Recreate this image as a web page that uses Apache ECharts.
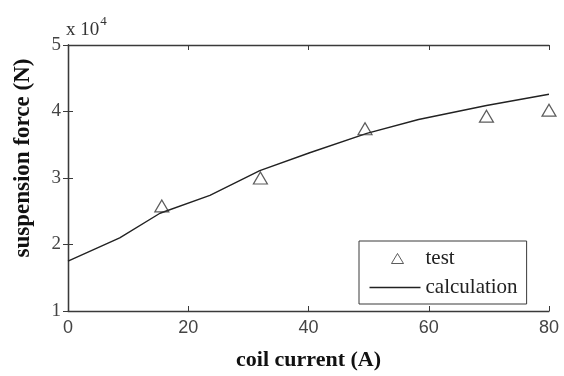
<!DOCTYPE html>
<html>
<head>
    <meta charset="utf-8">
    <title>suspension force</title>
    <script src="https://cdn.jsdelivr.net/npm/echarts@6/dist/echarts.min.js"></script>
</head>
<body style="margin:0;background:#fff;">
<div id="main" style="width: 564px;height:376px;"></div>
<script type="text/javascript">
  // values in units of 1e4 N
  var calcCurrent = [0, 8.6, 15.3, 23.6, 31.9, 40.2, 49.7, 58.3, 69.6, 80];
  var calcForce = [1.75, 2.10, 2.47, 2.74, 3.11, 3.38, 3.67, 3.88, 4.09, 4.26];
  var testCurrent = [15.6, 32, 49.4, 69.6, 80];
  var testForce = [2.58, 3.0, 3.74, 3.93, 4.02];

  var xTicks = [0, 20, 40, 60, 80];
  var yTicks = [1, 2, 3, 4, 5];

  function pairs(xs, ys) {
    var out = [];
    for (var i = 0; i < xs.length; i++) out.push([xs[i], ys[i]]);
    return out;
  }

  var axisColor = '#3a3a3a';
  var myChart = echarts.init(document.getElementById('main'));

  var option = {
    backgroundColor: '#fff',
    animation: false,
    title: {
      text: '{a|x 10}{b|4}',
      left: 66,
      top: 15,
      padding: 0,
      textStyle: {
        fontWeight: 'normal',
        rich: {
          a: { fontFamily: 'Liberation Serif', fontWeight: 'normal', fontSize: 19, color: '#333', verticalAlign: 'bottom' },
          b: { fontFamily: 'Liberation Serif', fontWeight: 'normal', fontSize: 13, color: '#333', verticalAlign: 'top', padding: [0, 0, 12, 1] }
        }
      }
    },
    grid: { left: 68, right: 15, top: 45, bottom: 60, containLabel: false },
    legend: {
      orient: 'vertical',
      left: 359,
      top: 241,
      padding: [7, 9, 6, 10],
      itemWidth: 51,
      itemHeight: 11,
      itemGap: 8,
      backgroundColor: '#fff',
      borderColor: axisColor,
      borderWidth: 1,
      itemStyle: { borderWidth: 1 },
      textStyle: { fontFamily: 'Liberation Serif', fontSize: 21, color: '#222', lineHeight: 21 },
      data: [
        // invisible moveTo corners keep the triangle small inside the 51x11 icon box
        { name: 'test', icon: 'path://M0,0M51,11M22,10.5L28,0.5L34,10.5Z' },
        { name: 'calculation', icon: 'path://M0,0L51,0L51,1.4L0,1.4Z' }
      ]
    },
    xAxis: [{
      type: 'value',
      min: xTicks[0],
      max: xTicks[xTicks.length - 1],
      interval: 20,
      name: 'coil current (A)',
      nameLocation: 'middle',
      nameGap: 38,
      nameTextStyle: { fontFamily: 'Liberation Serif', fontWeight: 'bold', fontSize: 22, color: '#111' },
      axisLine: { lineStyle: { color: axisColor, width: 1.3 } },
      axisTick: { inside: true, length: 5, lineStyle: { color: axisColor } },
      axisLabel: { fontFamily: 'Liberation Sans', fontSize: 18, color: '#444', margin: 8 },
      splitLine: { show: false }
    }, {
      type: 'value',
      position: 'top',
      min: xTicks[0],
      max: xTicks[xTicks.length - 1],
      interval: 20,
      axisLine: { show: true, lineStyle: { color: axisColor, width: 1.3 } },
      axisTick: { inside: true, length: 5, lineStyle: { color: axisColor } },
      axisLabel: { show: false },
      splitLine: { show: false }
    }],
    yAxis: [{
      type: 'value',
      min: yTicks[0],
      max: yTicks[yTicks.length - 1],
      interval: 1,
      name: 'suspension force (N)',
      nameLocation: 'middle',
      nameGap: 33,
      nameTextStyle: { fontFamily: 'Liberation Serif', fontWeight: 'bold', fontSize: 23, color: '#111', padding: [0, 0, 0, 40] },
      axisLine: { show: true, lineStyle: { color: axisColor, width: 1.3 } },
      axisTick: { show: true, inside: true, length: 5, lineStyle: { color: axisColor } },
      axisLabel: { fontFamily: 'Liberation Serif', fontSize: 19, color: '#444', margin: 7 },
      splitLine: { show: false }
    }, {
      type: 'value',
      position: 'right',
      min: yTicks[0],
      max: yTicks[yTicks.length - 1],
      interval: 1,
      axisLine: { show: true, lineStyle: { color: axisColor, width: 1.3 } },
      axisTick: { show: true, inside: true, length: 5, lineStyle: { color: axisColor } },
      axisLabel: { show: false },
      splitLine: { show: false }
    }],
    series: [{
      name: 'test',
      type: 'scatter',
      symbol: 'triangle',
      symbolSize: [14, 12],
      itemStyle: { color: 'rgba(255,255,255,0)', borderColor: '#333', borderWidth: 1.2 },
      data: pairs(testCurrent, testForce),
      z: 3
    }, {
      name: 'calculation',
      type: 'line',
      symbol: 'none',
      lineStyle: { color: '#222', width: 1.4 },
      itemStyle: { color: '#222' },
      data: pairs(calcCurrent, calcForce),
      z: 2
    }]
  };
  myChart.setOption(option);
</script>
</body>
</html>
